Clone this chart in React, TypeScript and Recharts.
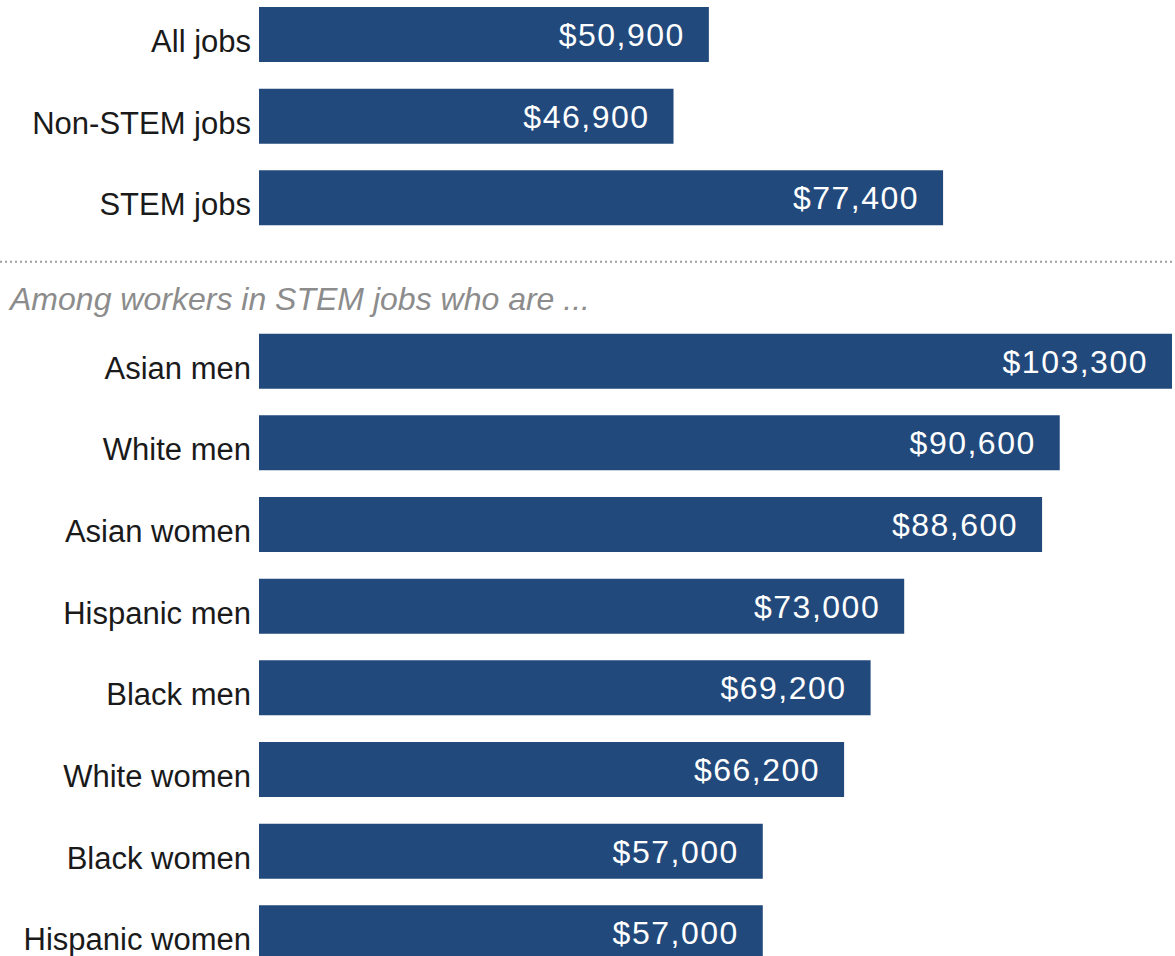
import { BarChart, Bar, XAxis, YAxis, LabelList } from 'recharts';

// median annual earnings, full-time workers
const SUBTITLE = 'Among workers in STEM jobs who are ...';

const categories = [
  'All jobs',
  'Non-STEM jobs',
  'STEM jobs',
  SUBTITLE, // empty slot used as the section divider
  'Asian men',
  'White men',
  'Asian women',
  'Hispanic men',
  'Black men',
  'White women',
  'Black women',
  'Hispanic women',
];

const earnings: (number | null)[] = [
  50900, 46900, 77400, null, 103300, 90600, 88600, 73000, 69200, 66200, 57000, 57000,
];

const data = categories.map((name, i) => ({ name, value: earnings[i] }));

const W = 1175;
const BAR = '#22497c';
const FONT = '"Liberation Sans", Arial, sans-serif';

const fmt = (v: number) => '$' + v.toLocaleString('en-US');

function CategoryTick(props: any) {
  const { x, y, payload } = props;
  if (payload.value === SUBTITLE) {
    return (
      <g>
        <line x1={0} x2={W} y1={y - 18} y2={y - 18} stroke="#a0a0a0" strokeWidth={2} strokeDasharray="2 3" />
        <text
          x={10}
          y={y + 30}
          fontFamily={FONT}
          fontStyle="italic"
          fontSize={32}
          fill="#8c8c8c"
          textLength={580}
          lengthAdjust="spacingAndGlyphs"
        >
          {payload.value}
        </text>
      </g>
    );
  }
  return (
    <text x={x} y={y + 17} textAnchor="end" fontFamily={FONT} fontSize={31} fill="#1a1a1a">
      {payload.value}
    </text>
  );
}

function ValueLabel(props: any) {
  const { x, y, width, height, value } = props;
  if (value == null) return null;
  return (
    <text
      x={x + width - 24}
      y={y + height / 2 + 11.5}
      textAnchor="end"
      fontFamily={FONT}
      fontSize={32}
      letterSpacing={1.5}
      fill="#ffffff"
    >
      {fmt(value)}
    </text>
  );
}

export default function App() {
  return (
    <div style={{ position: 'absolute', left: 0, top: -6, background: '#fff' }}>
      <BarChart
        width={W}
        height={980}
        data={data}
        layout="vertical"
        margin={{ top: 0, right: 3, left: 0, bottom: 0 }}
      >
        <XAxis type="number" domain={[0, 103300]} allowDataOverflow hide />
        <YAxis
          type="category"
          dataKey="name"
          width={259}
          axisLine={false}
          tickLine={false}
          interval={0}
          tick={<CategoryTick />}
        />
        <Bar dataKey="value" fill={BAR} barSize={55} isAnimationActive={false}>
          <LabelList dataKey="value" content={<ValueLabel />} />
        </Bar>
      </BarChart>
    </div>
  );
}
